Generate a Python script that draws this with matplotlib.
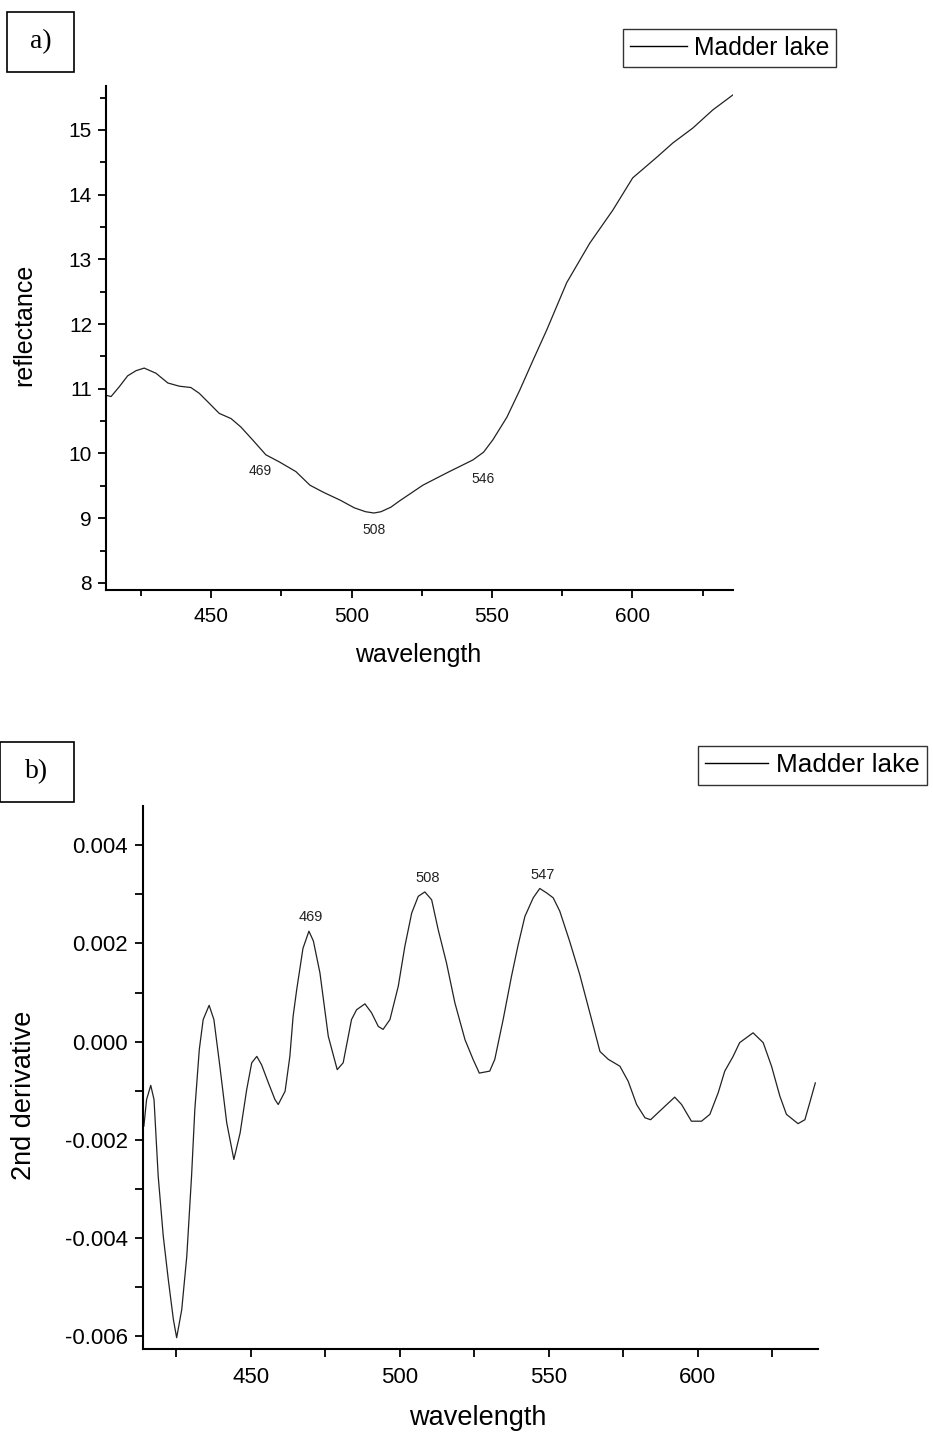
import matplotlib
matplotlib.use("Agg")
import matplotlib.pyplot as plt
from matplotlib.ticker import MultipleLocator, FormatStrFormatter

plt.rcParams['font.family'] = ['Liberation Sans', 'DejaVu Sans']

# ---- data: panel a (reflectance) ----
wl_a = [412.6, 414.4, 417.3, 420.3, 423.3, 426.2, 430.4, 434.6, 438.7, 442.8, 445.8, 448.8,
        452.9, 457.1, 460.6, 464.8, 469.5, 474.3, 480.2, 485.2, 490, 495.9,
        501, 505, 508, 510.5, 514, 517.2, 525.4, 533.9, 543.2, 547, 550.3, 555.3,
        559.9, 564.6, 569.5, 576.6, 584.8, 593.0, 600.1, 608.7, 614.4, 621.5, 628.6, 635.7]
refl = [10.90, 10.88, 11.03, 11.20, 11.28, 11.32, 11.24, 11.09, 11.04, 11.02, 10.93, 10.80,
        10.62, 10.54, 10.41, 10.21, 9.98, 9.87, 9.72, 9.51, 9.40, 9.28,
        9.16, 9.10, 9.08, 9.10, 9.17, 9.27, 9.51, 9.70, 9.90, 10.02, 10.21, 10.56,
        10.98, 11.44, 11.91, 12.64, 13.25, 13.76, 14.26, 14.58, 14.80, 15.03, 15.31, 15.54]
labels_a = ["469", "508", "546"]
lab_a_x = [467.4, 507.9, 546.7]
lab_a_y = [9.73, 8.82, 9.61]

# ---- data: panel b (2nd derivative, in units of 1e-3) ----
wl_b = [414.1, 415.0, 416.4, 417.5, 418.9, 420.6, 422.3, 424.0, 425.1, 426.8, 428.5, 430.1,
        431.2, 432.7, 434.0, 436.0, 437.6, 439.6, 441.9, 444.3, 446.4, 448.6, 450.3, 452.0,
        453.6, 455.9, 458.1, 459.2, 461.5, 463.1, 464.2, 465.4, 467.5, 469.5, 471.0, 473.2,
        476.0, 479.0, 481.0, 483.8, 485.5, 488.3, 490.5, 492.8, 494.4, 496.7, 499.5, 501.7,
        504.0, 506.2, 508.4, 510.7, 512.9, 515.7, 518.5, 521.9, 524.6, 526.7, 530.2, 531.9,
        534.7, 537.5, 539.7, 542.0, 544.8, 547.0, 549.3, 551.5, 553.7, 557.0, 560.4, 564.4,
        567.2, 570.0, 573.9, 576.7, 579.5, 582.3, 584.2, 588.4, 592.3, 594.6, 597.9, 601.3,
        604.1, 606.9, 609.1, 611.9, 614.1, 618.6, 622.0, 624.8, 627.6, 629.8, 633.7, 636.0,
        637.6, 639.5]
deriv_milli = [-1.72, -1.18, -0.89, -1.18, -2.74, -3.96, -4.85, -5.66, -6.03, -5.46, -4.37, -2.74,
               -1.38, -0.16, 0.45, 0.74, 0.45, -0.50, -1.65, -2.40, -1.86, -0.98, -0.43, -0.30,
               -0.47, -0.84, -1.18, -1.28, -1.01, -0.30, 0.52, 1.06, 1.90, 2.25, 2.05, 1.40,
               0.11, -0.57, -0.43, 0.45, 0.65, 0.77, 0.59, 0.31, 0.25, 0.45, 1.13, 1.94,
               2.62, 2.96, 3.05, 2.89, 2.28, 1.60, 0.79, 0.04, -0.36, -0.64, -0.60, -0.36,
               0.45, 1.33, 1.96, 2.55, 2.93, 3.12, 3.03, 2.93, 2.66, 2.05, 1.37, 0.45,
               -0.20, -0.36, -0.50, -0.81, -1.28, -1.55, -1.59, -1.35, -1.13, -1.28, -1.62, -1.62,
               -1.48, -1.04, -0.60, -0.30, -0.02, 0.18, -0.02, -0.50, -1.11, -1.48, -1.67, -1.59,
               -1.25, -0.84]
deriv = [v * 1e-3 for v in deriv_milli]
labels_b = ["469", "508", "547"]
lab_b_x = [470.2, 509.4, 548.0]
lab_b_y = [0.00253, 0.00334, 0.00340]

series_name = "Madder lake"

W, H = 933, 1434
fig = plt.figure(figsize=(W / 100, H / 100), dpi=100)

def fx(px):
    return px / W

def fy(py):
    return 1 - py / H

def style_axes(ax, labelsize, xpad, ypad):
    for s in ['top', 'right']:
        ax.spines[s].set_visible(False)
    for s in ['left', 'bottom']:
        ax.spines[s].set_linewidth(1.5)
    ax.tick_params(which='major', direction='out', length=6, width=1.3, labelsize=labelsize)
    ax.tick_params(which='minor', direction='out', length=4, width=1.3)
    ax.tick_params(axis='x', which='major', pad=xpad)
    ax.tick_params(axis='y', which='major', pad=ypad)

def make_legend(ax, x0, y0, size, hl):
    leg = ax.legend(loc='upper left', bbox_to_anchor=(fx(x0), fy(y0)), bbox_transform=fig.transFigure,
                    borderaxespad=0, frameon=True, fancybox=False, edgecolor='black',
                    fontsize=size, handlelength=hl, handletextpad=0.3, borderpad=0.28)
    leg.get_frame().set_linewidth(1.0)
    for ln in leg.get_lines():
        ln.set_linewidth(1.0)
        ln.set_color('black')
    return leg

# Panel a
axa = fig.add_axes([fx(106), fy(590), (733 - 106) / W, (590 - 86) / H])
axa.plot(wl_a, refl, color='#222222', lw=0.9, label=series_name)
axa.set_xlim(412.6, 635.8)
axa.set_ylim(7.89, 15.68)
axa.xaxis.set_major_locator(MultipleLocator(50))
axa.xaxis.set_minor_locator(MultipleLocator(25))
axa.yaxis.set_major_locator(MultipleLocator(1))
axa.yaxis.set_minor_locator(MultipleLocator(0.5))
style_axes(axa, 15, 6.5, 4)
for t, x, y in zip(labels_a, lab_a_x, lab_a_y):
    axa.text(x, y, t, fontsize=10, ha='center', va='center', color='#222222')
fig.text(fx(418), fy(655), "wavelength", fontsize=18, ha='center', va='center')
fig.text(fx(24), fy(325), "reflectance", fontsize=18, ha='center', va='center', rotation=90)
make_legend(axa, 623, 29, 17.8, 2.3)

# Panel b
axb = fig.add_axes([fx(143), fy(1349), (818 - 143) / W, (1349 - 806) / H])
axb.plot(wl_b, deriv, color='#222222', lw=0.9, label=series_name)
axb.set_xlim(413.8, 640.4)
axb.set_ylim(-0.00626, 0.0048)
axb.xaxis.set_major_locator(MultipleLocator(50))
axb.xaxis.set_minor_locator(MultipleLocator(25))
axb.yaxis.set_major_locator(MultipleLocator(0.002))
axb.yaxis.set_minor_locator(MultipleLocator(0.001))
axb.yaxis.set_major_formatter(FormatStrFormatter('%.3f'))
style_axes(axb, 16, 7, 5)
axb.tick_params(which='minor', length=6)
for t, x, y in zip(labels_b, lab_b_x, lab_b_y):
    axb.text(x, y, t, fontsize=10.5, ha='center', va='center', color='#222222')
fig.text(fx(478), fy(1418), "wavelength", fontsize=19.5, ha='center', va='center')
fig.text(fx(24), fy(1095), "2nd derivative", fontsize=19.5, ha='center', va='center', rotation=90)
make_legend(axb, 698, 746, 18.8, 2.4)

# Panel letters in boxes
for txt, x0, y0, x1, y1 in [("a)", 7, 12, 74, 72), ("b)", 0, 742, 74, 802)]:
    rect = plt.Rectangle((fx(x0), fy(y1)), (x1 - x0) / W, (y1 - y0) / H, transform=fig.transFigure,
                         fill=False, edgecolor='black', lw=1.2)
    fig.add_artist(rect)
    fig.text(fx((x0 + x1) / 2), fy((y0 + y1) / 2), txt, fontsize=20, ha='center', va='center',
             family=['Liberation Serif', 'DejaVu Serif'])

fig.savefig("out.png", dpi=100)
